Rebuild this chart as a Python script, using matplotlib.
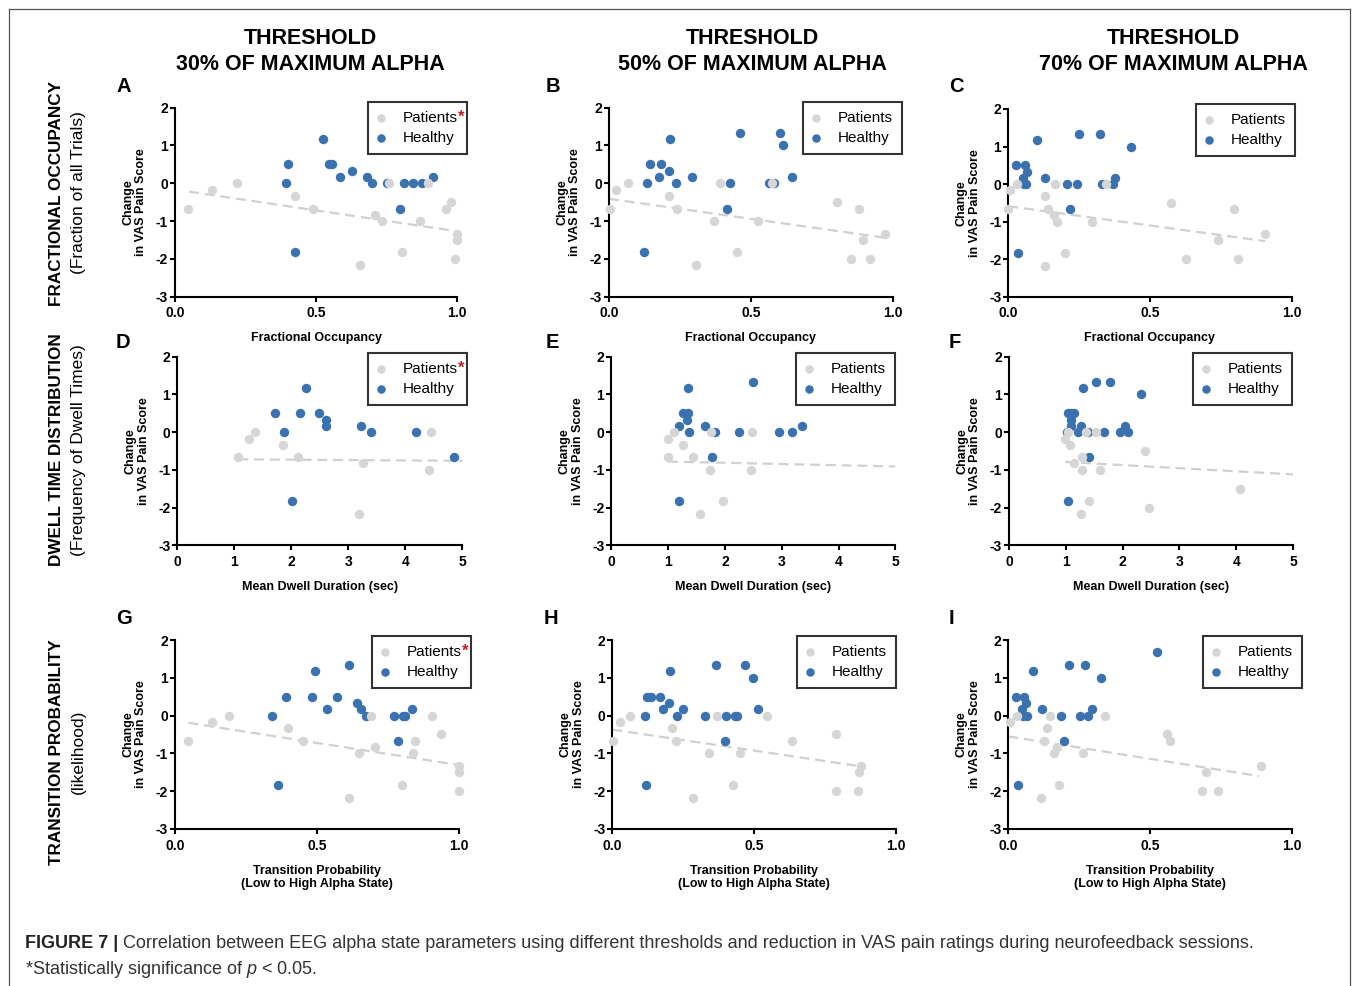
import numpy as np
import matplotlib
matplotlib.use("Agg")
import matplotlib.pyplot as plt
from matplotlib.lines import Line2D

# ---------------- DATA ----------------
# Panel A: Fractional occupancy, threshold 30%
a_pat_x = [0.047, 0.131, 0.218, 0.425, 0.489, 0.655, 0.708, 0.735, 0.758, 0.805, 0.868, 0.895, 0.960, 0.978, 0.999, 0.999, 0.992]
a_pat_y = [-0.67, -0.17, 0, -0.33, -0.67, -2.17, -0.83, -1.0, 0, -1.83, -1.0, 0, -0.67, -0.5, -1.33, -1.5, -2.0]
a_hea_x = [0.392, 0.401, 0.425, 0.525, 0.547, 0.555, 0.584, 0.628, 0.681, 0.699, 0.752, 0.796, 0.811, 0.843, 0.874, 0.913]
a_hea_y = [0, 0.5, -1.83, 1.17, 0.5, 0.5, 0.17, 0.33, 0.17, 0, 0, -0.67, 0, 0, 0, 0.17]
a_trend = [0.05, -0.22, 1.0, -1.27]   # x0, y0, x1, y1 of patients' fit line

# Panel B: Fractional occupancy, threshold 50%
b_pat_x = [0.004, 0.025, 0.066, 0.21, 0.241, 0.307, 0.371, 0.391, 0.452, 0.524, 0.576, 0.804, 0.88, 0.852, 0.897, 0.92, 0.972]
b_pat_y = [-0.67, -0.17, 0, -0.33, -0.67, -2.17, -1.0, 0, -1.83, -1.0, 0, -0.5, -0.67, -2.0, -1.5, -2.0, -1.33]
b_hea_x = [0.134, 0.143, 0.122, 0.215, 0.183, 0.175, 0.21, 0.237, 0.293, 0.427, 0.415, 0.462, 0.563, 0.58, 0.604, 0.612, 0.646]
b_hea_y = [0, 0.5, -1.83, 1.17, 0.5, 0.17, 0.33, 0, 0.17, 0, -0.67, 1.33, 0, 0, 1.33, 1.0, 0.17]
b_trend = [0.0, -0.41, 0.973, -1.44]

# Panel C: Fractional occupancy, threshold 70%
c_pat_x = [0.0, 0.006, 0.029, 0.131, 0.139, 0.162, 0.172, 0.165, 0.201, 0.128, 0.295, 0.344, 0.573, 0.626, 0.739, 0.798, 0.812, 0.906]
c_pat_y = [-0.67, -0.17, 0, -0.33, -0.67, -0.83, -1.0, 0, -1.83, -2.17, -1.0, 0, -0.5, -2.0, -1.5, -0.67, -2.0, -1.33]
c_hea_x = [0.028, 0.035, 0.053, 0.056, 0.059, 0.064, 0.066, 0.102, 0.131, 0.206, 0.218, 0.242, 0.249, 0.325, 0.332, 0.368, 0.376, 0.433]
c_hea_y = [0.5, -1.83, 0.17, 0, 0.5, 0, 0.33, 1.17, 0.17, 0, -0.67, 0, 1.33, 1.33, 0, 0, 0.17, 1.0]
c_trend = [0.0, -0.59, 0.906, -1.52]

# Panel D: Mean dwell duration, threshold 30%
d_pat_x = [1.07, 1.26, 1.37, 1.85, 2.12, 3.18, 3.25, 4.42, 4.45]
d_pat_y = [-0.67, -0.17, 0, -0.33, -0.67, -2.17, -0.83, -1.0, 0]
d_hea_x = [1.71, 1.88, 2.01, 2.16, 2.25, 2.48, 2.6, 2.6, 3.22, 3.4, 4.18, 4.85]
d_hea_y = [0.5, 0, -1.83, 0.5, 1.17, 0.5, 0.33, 0.17, 0.17, 0, 0, -0.67]
d_trend = [1.07, -0.72, 5.0, -0.76]

# Panel E: Mean dwell duration, threshold 50%
e_pat_x = [1.0, 1.0, 1.11, 1.26, 1.43, 1.57, 1.73, 1.75, 1.96, 2.48, 2.46]
e_pat_y = [-0.17, -0.67, 0, -0.33, -0.67, -2.17, -1.0, 0, -1.83, 0, -1.0]
e_hea_x = [1.19, 1.2, 1.26, 1.35, 1.33, 1.35, 1.37, 1.65, 1.83, 1.78, 2.24, 2.5, 2.95, 3.18, 3.36]
e_hea_y = [-1.83, 0.17, 0.5, 0.5, 0.33, 1.17, 0, 0.17, 0, -0.67, 0, 1.33, 0, 0, 0.17]
e_trend = [1.0, -0.78, 5.0, -0.91]

# Panel F: Mean dwell duration, threshold 70%
f_pat_x = [0.99, 1.04, 1.07, 1.14, 1.28, 1.29, 1.35, 1.27, 1.41, 1.54, 1.6, 2.39, 2.46, 4.06]
f_pat_y = [-0.17, 0, -0.33, -0.83, -0.67, -1.0, 0, -2.17, -1.83, 0, -1.0, -0.5, -2.0, -1.5]
f_hea_x = [1.04, 1.03, 1.02, 1.09, 1.15, 1.1, 1.09, 1.21, 1.26, 1.31, 1.39, 1.41, 1.54, 1.68, 1.78, 1.96, 2.04, 2.09, 2.33]
f_hea_y = [-1.83, 0.5, 0, 0.5, 0.5, 0.33, 0.17, 0, 0.17, 1.17, 0, -0.67, 1.33, 0, 1.33, 0, 0.17, 0, 1.0]
f_trend = [0.99, -0.79, 5.0, -1.12]

# Panel G: Transition probability, threshold 30%
g_pat_x = [0.047, 0.13, 0.191, 0.399, 0.452, 0.614, 0.649, 0.691, 0.703, 0.798, 0.837, 0.845, 0.905, 0.935, 0.999, 0.999, 0.999]
g_pat_y = [-0.67, -0.17, 0, -0.33, -0.67, -2.17, -1.0, 0, -0.83, -1.83, -1.0, -0.67, 0, -0.5, -1.33, -1.5, -2.0]
g_hea_x = [0.343, 0.364, 0.392, 0.484, 0.492, 0.535, 0.57, 0.614, 0.64, 0.656, 0.673, 0.772, 0.786, 0.802, 0.809, 0.835]
g_hea_y = [0, -1.83, 0.5, 0.5, 1.17, 0.17, 0.5, 1.33, 0.33, 0.17, 0, 0, -0.67, 0, 0, 0.17]
g_trend = [0.047, -0.19, 1.0, -1.31]

# Panel H: Transition probability, threshold 50%
h_pat_x = [0.004, 0.026, 0.063, 0.21, 0.224, 0.284, 0.341, 0.369, 0.424, 0.45, 0.545, 0.632, 0.787, 0.789, 0.865, 0.871, 0.875]
h_pat_y = [-0.67, -0.17, 0, -0.33, -0.67, -2.17, -1.0, 0, -1.83, -1.0, 0, -0.67, -0.5, -2.0, -2.0, -1.5, -1.33]
h_hea_x = [0.114, 0.118, 0.123, 0.135, 0.168, 0.177, 0.2, 0.203, 0.228, 0.25, 0.328, 0.367, 0.397, 0.401, 0.434, 0.44, 0.469, 0.496, 0.515]
h_hea_y = [0, -1.83, 0.5, 0.5, 0.5, 0.17, 0.33, 1.17, 0, 0.17, 0, 1.33, -0.67, 0, 0, 0, 1.33, 1.0, 0.17]
h_trend = [0.0, -0.37, 0.873, -1.34]

# Panel I: Transition probability, threshold 70%
i_pat_x = [0.005, 0.029, 0.127, 0.137, 0.147, 0.115, 0.161, 0.17, 0.18, 0.262, 0.34, 0.559, 0.57, 0.681, 0.697, 0.737, 0.891]
i_pat_y = [-0.17, 0, -0.67, -0.33, 0, -2.17, -1.0, -0.83, -1.83, -1.0, 0, -0.5, -0.67, -2.0, -1.5, -2.0, -1.33]
i_hea_x = [0.027, 0.035, 0.048, 0.05, 0.055, 0.062, 0.065, 0.087, 0.117, 0.185, 0.196, 0.215, 0.251, 0.27, 0.282, 0.295, 0.327, 0.525]
i_hea_y = [0.5, -1.83, 0.17, 0, 0.5, 0.33, 0, 1.17, 0.17, 0, -0.67, 1.33, 0, 1.33, 0, 0.17, 1.0, 1.67]
i_trend = [0.0, -0.55, 0.883, -1.6]

panel_letters = ["A", "B", "C", "D", "E", "F", "G", "H", "I"]
significant = [True, False, False, True, False, False, True, False, False]
col_titles = ["THRESHOLD\n30% OF MAXIMUM ALPHA", "THRESHOLD\n50% OF MAXIMUM ALPHA", "THRESHOLD\n70% OF MAXIMUM ALPHA"]
row_titles = ["FRACTIONAL OCCUPANCY", "DWELL TIME DISTRIBUTION", "TRANSITION PROBABILITY"]
row_subtitles = ["(Fraction of all Trials)", "(Frequency of Dwell Times)", "(likelihood)"]
x_labels = ["Fractional Occupancy", "Mean Dwell Duration (sec)", "Transition Probability\n(Low to High Alpha State)"]
y_label = "Change\nin VAS Pain Score"
frac_ticks = [0.0, 0.5, 1.0]
frac_ticklabels = ["0.0", "0.5", "1.0"]
dwell_ticks = [0, 1, 2, 3, 4, 5]
dwell_ticklabels = ["0", "1", "2", "3", "4", "5"]
y_ticks = [-3, -2, -1, 0, 1, 2]
y_ticklabels = ["-3", "-2", "-1", "0", "1", "2"]
legend_labels = ["Patients", "Healthy"]
caption_bold = "FIGURE 7 |"
caption_rest = (" Correlation between EEG alpha state parameters using different thresholds and "
                "reduction in VAS pain ratings during neurofeedback sessions.")
caption_line2 = "*Statistically significance of $p$ < 0.05."

pat_x = [a_pat_x, b_pat_x, c_pat_x, d_pat_x, e_pat_x, f_pat_x, g_pat_x, h_pat_x, i_pat_x]
pat_y = [a_pat_y, b_pat_y, c_pat_y, d_pat_y, e_pat_y, f_pat_y, g_pat_y, h_pat_y, i_pat_y]
hea_x = [a_hea_x, b_hea_x, c_hea_x, d_hea_x, e_hea_x, f_hea_x, g_hea_x, h_hea_x, i_hea_x]
hea_y = [a_hea_y, b_hea_y, c_hea_y, d_hea_y, e_hea_y, f_hea_y, g_hea_y, h_hea_y, i_hea_y]
trends = [a_trend, b_trend, c_trend, d_trend, e_trend, f_trend, g_trend, h_trend, i_trend]

# ---------------- LAYOUT / STYLE ----------------
W, H = 1357, 986
plt.rcParams['font.family'] = ['Liberation Sans', 'DejaVu Sans']
plt.rcParams['axes.unicode_minus'] = False
plt.rcParams['mathtext.fontset'] = 'custom'
plt.rcParams['mathtext.it'] = 'Liberation Sans:italic'
plt.rcParams['mathtext.rm'] = 'Liberation Sans'

PAT_C = '#d6d6d6'
HEA_C = '#3a72b0'
LINE_C = '#d0d0d0'
STAR_C = '#c0201e'

fig = plt.figure(figsize=(W / 100, H / 100), dpi=100)
fig.patch.set_facecolor('white')


def fx(p):
    return p / W


def fy(p):
    return 1 - p / H


# axes boxes in pixels: left, top, right, bottom (data-limit positions)
ax_boxes = [
    (175.0, 107.7, 457.3, 296.7), (609.0, 107.7, 892.7, 296.7), (1008.3, 109.0, 1291.7, 296.7),
    (177.3, 356.7, 462.3, 545.3), (611.3, 356.7, 895.3, 545.3), (1009.0, 356.7, 1293.0, 545.3),
    (175.0, 640.0, 459.0, 829.0), (612.3, 640.0, 896.0, 829.0), (1008.3, 640.0, 1292.3, 829.0),
]
# legend upper-right corners in pixels
leg_corners = [(467, 102), (902, 102), (1295, 104),
               (467, 353), (895, 353), (1292, 353),
               (471, 636), (896, 636), (1302, 636)]
letter_pos = [(124, 87), (553, 87), (956, 87),
              (123, 343), (552, 343), (955, 343),
              (124, 619), (551, 619), (951, 619)]
col_centers = [310, 752, 1173]
row_centers = [193, 450, 752]

axes = []
legends = []
for k in range(9):
    row = k // 3
    l, t, r, b = ax_boxes[k]
    ax = fig.add_axes([fx(l), fy(b), (r - l) / W, (b - t) / H])
    axes.append(ax)
    if row == 1:
        ax.set_xlim(0, 5)
        ax.set_xticks(dwell_ticks)
        ax.set_xticklabels(dwell_ticklabels)
    else:
        ax.set_xlim(0, 1)
        ax.set_xticks(frac_ticks)
        ax.set_xticklabels(frac_ticklabels)
    ax.set_ylim(-3, 2)
    ax.set_yticks(y_ticks)
    ax.set_yticklabels(y_ticklabels)
    for s in ['top', 'right']:
        ax.spines[s].set_visible(False)
    for s in ['left', 'bottom']:
        ax.spines[s].set_linewidth(1.5)
        ax.spines[s].set_capstyle('projecting')
    ax.tick_params(axis='both', direction='out', length=3.5, width=1.5, labelsize=10, pad=1.5)
    ax.tick_params(axis='x', pad=3.5)
    for lab in ax.get_xticklabels() + ax.get_yticklabels():
        lab.set_fontweight('bold')
    ax.patch.set_alpha(0)

    # trend line for patients
    tx0, ty0, tx1, ty1 = trends[k]
    ax.plot([tx0, tx1], [ty0, ty1], color=LINE_C, lw=1.6, dashes=(4.5, 2.6), zorder=1, clip_on=False)
    hh = ax.scatter(hea_x[k], hea_y[k], s=46, color=HEA_C, linewidths=0, zorder=3, clip_on=False)
    ph = ax.scatter(pat_x[k], pat_y[k], s=46, color=PAT_C, linewidths=0, zorder=4, clip_on=False)

    ax.set_xlabel(x_labels[row], fontsize=9, fontweight='bold', labelpad=8.5, linespacing=1.15)
    ax.set_ylabel(y_label, fontsize=9, fontweight='bold', labelpad=6, linespacing=1.1)

    cx, cy = leg_corners[k]
    leg = ax.legend([ph, hh], legend_labels, loc='upper right',
                    bbox_to_anchor=(fx(cx), fy(cy)), bbox_transform=fig.transFigure,
                    borderaxespad=0, fontsize=11, frameon=True, fancybox=False,
                    edgecolor='black', borderpad=0.6, labelspacing=0.35,
                    handlelength=0.4, handletextpad=1.25, markerscale=0.9)
    leg.get_frame().set_linewidth(1.5)
    leg.set_zorder(10)
    legends.append(leg)

    # panel letter
    lx, ly = letter_pos[k]
    fig.text(fx(lx), fy(ly), panel_letters[k], fontsize=14.5, fontweight='bold', ha='center', va='center')

# column headers
for c in range(3):
    l1, l2 = col_titles[c].split("\n")
    fig.text(fx(col_centers[c]), fy(38.5), l1, fontsize=15.5, fontweight='bold', ha='center', va='center')
    fig.text(fx(col_centers[c]), fy(64.5), l2, fontsize=15.5, fontweight='bold', ha='center', va='center')

# row labels
for r in range(3):
    fig.text(fx(57), fy(row_centers[r]), row_titles[r], fontsize=12.3, fontweight='bold',
             rotation=90, ha='center', va='center')
    fig.text(fx(78), fy(row_centers[r]), row_subtitles[r], fontsize=12.5,
             rotation=90, ha='center', va='center')

# frame around figure
fig.add_artist(Line2D([fx(8.5), fx(8.5)], [fy(8.5), -0.01], color='#555555', lw=0.9, transform=fig.transFigure))
fig.add_artist(Line2D([fx(8.5), fx(1350)], [fy(8.5), fy(8.5)], color='#555555', lw=0.9, transform=fig.transFigure))
fig.add_artist(Line2D([fx(1350), fx(1350)], [fy(8.5), -0.01], color='#555555', lw=0.9, transform=fig.transFigure))

# caption
cap_fs = 13.0
tb = fig.text(fx(25), fy(944), caption_bold, fontsize=cap_fs, fontweight='bold', ha='left', va='center', color='#222222')
fig.canvas.draw()
renderer = fig.canvas.get_renderer()
bb = tb.get_window_extent(renderer)
tr = fig.text((bb.x1) / W, fy(944), caption_rest, fontsize=cap_fs, ha='left', va='center', color='#333333')
fig.canvas.draw()
# fit caption line width to reference (ends near x=1254)
total = tr.get_window_extent(renderer).x1 - bb.x0
scale = (1254 - 25) / total
cap_fs2 = cap_fs * scale
tb.set_fontsize(cap_fs2)
fig.canvas.draw()
bb = tb.get_window_extent(renderer)
tr.set_fontsize(cap_fs2)
tr.set_x(bb.x1 / W)
fig.text(fx(25), fy(969), caption_line2, fontsize=cap_fs2, ha='left', va='center', color='#333333')

# red asterisks on "Patients" in significant panels
fig.canvas.draw()
for k in range(9):
    if significant[k]:
        txt = legends[k].get_texts()[0]
        e = txt.get_window_extent(renderer)
        fig.text((e.x1 + 0.5) / W, (e.y1 + 1.5) / H, "*", fontsize=12, fontweight='bold',
                 color=STAR_C, ha='left', va='top', zorder=20)

fig.savefig("out.png", dpi=100, facecolor='white')
